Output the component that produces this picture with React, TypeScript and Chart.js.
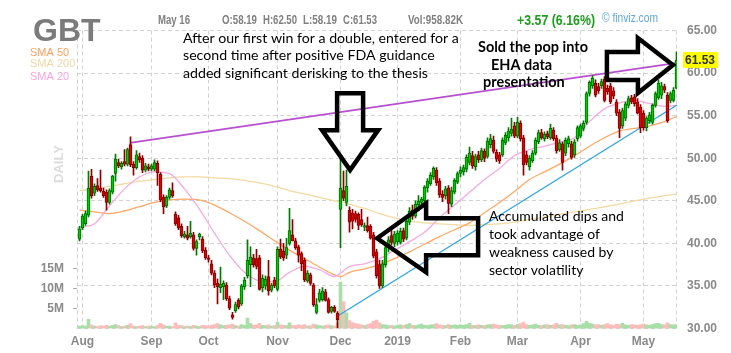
import React, { useEffect, useRef } from "react";
import { Chart, registerables } from "chart.js";
Chart.register(...registerables);

// ---------- axis labels ----------
const monthIdx = [1, 24, 43, 66, 87, 106, 127, 146, 167, 188];
const monthLabels = ["Aug", "Sep", "Oct", "Nov", "Dec", "2019", "Feb", "Mar", "Apr", "May"];
const volTicks = [5, 10, 15]; // millions

// ---------- daily candles [open, high, low, close] ----------
const jul2018 = [[40.5, 42.0, 40.3, 41.7]];
const aug2018 = [
  [41.8, 43.4, 41.6, 43.2], [42.3, 43.8, 42.1, 43.5], [43.3, 48.5, 43.1, 46.5], [47.9, 48.7, 45.3, 45.6],
  [45.9, 47.0, 45.6, 46.7], [46.8, 47.6, 46.1, 46.3], [46.5, 48.6, 46.0, 46.2], [46.1, 46.5, 45.4, 45.6],
  [46.0, 46.3, 43.9, 44.8], [44.8, 46.4, 44.6, 46.2], [46.0, 48.0, 45.8, 47.9], [48.2, 50.5, 47.3, 49.9],
  [49.5, 49.9, 48.9, 49.1], [49.0, 49.6, 48.7, 49.4], [49.6, 51.0, 49.1, 49.3], [49.3, 51.2, 49.1, 51.0],
  [51.6, 52.5, 49.0, 49.2], [49.3, 49.6, 48.0, 48.9], [48.9, 50.9, 48.7, 50.4], [50.2, 50.6, 49.5, 49.8],
  [50.0, 50.3, 48.3, 48.6], [48.6, 49.4, 48.4, 49.1], [49.0, 49.3, 48.5, 48.7],
];
const sep2018 = [
  [48.7, 49.3, 48.5, 49.1], [48.7, 49.8, 48.5, 49.5], [49.4, 49.7, 46.8, 48.3], [48.1, 48.3, 44.9, 45.1],
  [45.4, 45.7, 43.5, 44.3], [44.4, 45.6, 44.2, 45.4], [45.4, 46.5, 45.2, 46.3], [46.2, 47.1, 45.4, 45.6],
  [43.4, 43.7, 42.1, 42.3], [43.0, 43.3, 41.6, 41.8], [42.0, 42.3, 40.7, 40.9], [40.8, 41.4, 40.6, 41.1],
  [41.0, 42.0, 40.4, 40.6], [40.8, 42.6, 40.6, 41.2], [41.0, 41.3, 39.2, 39.4], [39.4, 40.4, 38.6, 40.2],
  [40.8, 41.2, 40.4, 41.1], [40.5, 40.8, 38.9, 39.1], [39.2, 39.5, 38.1, 38.3],
];
const oct2018 = [
  [38.3, 38.6, 37.8, 38.1], [37.6, 38.0, 36.3, 36.5], [36.5, 36.8, 34.8, 35.1], [35.3, 35.8, 32.9, 34.9],
  [34.8, 37.2, 34.2, 35.2], [34.9, 35.6, 33.4, 35.3], [35.1, 35.4, 33.3, 33.5], [33.5, 33.8, 32.2, 32.4],
  [31.6, 31.9, 31.1, 31.3], [32.1, 33.1, 31.9, 32.8], [33.3, 33.5, 32.3, 32.5], [32.9, 35.2, 32.7, 35.0],
  [34.9, 36.0, 34.6, 35.7], [36.2, 40.4, 35.9, 38.0], [37.5, 39.6, 34.9, 38.4], [38.3, 38.7, 37.2, 37.5],
  [38.2, 39.3, 37.0, 37.3], [38.3, 38.6, 34.5, 34.6], [34.8, 36.3, 34.3, 35.9], [35.0, 36.2, 34.6, 35.8],
  [36.1, 38.0, 33.9, 34.4], [34.5, 35.3, 34.3, 35.1], [35.7, 36.0, 34.8, 35.0],
];
const nov2018 = [
  [34.6, 39.6, 34.4, 39.3], [39.3, 40.5, 38.2, 38.4], [39.1, 40.0, 38.0, 38.3], [38.6, 40.6, 38.2, 39.5],
  [40.0, 44.1, 39.8, 41.5], [41.0, 42.8, 40.3, 40.3], [40.3, 40.6, 39.3, 39.5], [39.6, 39.8, 37.8, 38.6],
  [38.8, 39.0, 36.8, 37.6], [38.0, 38.3, 35.5, 35.7], [35.6, 36.8, 35.4, 36.5], [36.3, 36.5, 35.1, 35.3],
  [35.1, 35.3, 32.6, 32.8], [31.9, 33.5, 31.7, 32.8], [33.3, 34.6, 33.1, 34.2], [33.4, 34.8, 33.2, 34.4],
  [34.3, 34.6, 33.2, 33.3], [33.4, 33.6, 31.8, 31.9], [32.0, 32.6, 31.8, 32.5], [32.5, 32.7, 31.9, 32.0],
  [31.8, 32.0, 30.1, 31.0],
];
const dec2018 = [
  [44.0, 50.0, 39.5, 46.5], [46.2, 48.5, 45.0, 45.3], [44.8, 48.6, 44.4, 46.7], [43.9, 44.3, 41.3, 42.5],
  [43.6, 44.0, 41.7, 42.6], [43.5, 43.8, 42.5, 42.8], [43.4, 43.6, 41.6, 42.1], [42.8, 44.0, 42.0, 42.2],
  [41.9, 42.4, 41.5, 42.1], [42.1, 43.1, 41.3, 41.5], [42.0, 42.2, 40.5, 40.6], [41.0, 41.3, 38.3, 38.5],
  [39.0, 39.3, 35.9, 36.2], [37.5, 38.0, 34.7, 35.0], [35.0, 38.0, 34.8, 37.6], [37.5, 40.0, 37.2, 39.5],
  [39.5, 40.8, 39.0, 40.4], [40.9, 41.5, 39.8, 40.1], [40.0, 41.4, 39.6, 41.1],
];
const jan2019 = [
  [40.2, 41.5, 39.8, 41.2], [40.1, 41.8, 39.9, 41.4], [41.5, 41.8, 40.2, 40.5], [40.6, 42.9, 40.4, 42.6],
  [42.5, 44.2, 42.2, 43.8], [43.9, 44.5, 42.8, 43.2], [43.2, 45.0, 43.0, 44.6], [44.5, 45.6, 43.8, 45.0],
  [44.8, 45.4, 44.2, 45.2], [45.0, 46.8, 44.8, 46.6], [46.5, 47.6, 46.0, 47.3], [47.0, 48.3, 46.8, 48.0],
  [47.8, 49.0, 47.5, 48.8], [48.6, 48.9, 46.8, 47.1], [47.3, 47.6, 45.4, 45.7], [45.8, 46.2, 44.9, 45.4],
  [45.6, 46.7, 45.2, 46.4], [46.5, 46.8, 43.5, 44.7], [44.6, 46.6, 44.3, 46.2], [46.0, 47.6, 45.8, 47.4],
  [47.2, 48.4, 47.0, 48.2],
];
const feb2019 = [
  [48.2, 49.0, 47.8, 48.6], [48.4, 49.2, 48.0, 48.9], [48.7, 50.4, 48.4, 50.1], [49.5, 51.3, 49.2, 50.6],
  [50.3, 50.8, 48.8, 49.1], [49.0, 50.5, 48.6, 50.2], [50.4, 50.8, 49.5, 49.8], [49.8, 51.2, 49.6, 50.9],
  [50.8, 51.1, 49.6, 50.0], [50.2, 52.4, 50.0, 52.0], [51.6, 52.8, 51.2, 52.3], [52.1, 52.6, 50.6, 50.8],
  [50.7, 51.0, 49.6, 49.9], [50.4, 50.7, 49.4, 49.7], [50.4, 52.4, 50.2, 52.1], [51.8, 53.0, 51.6, 52.7],
  [52.4, 53.6, 52.0, 53.2], [52.9, 54.7, 52.6, 53.4], [53.8, 54.2, 52.4, 52.6],
];
const mar2019 = [
  [52.6, 54.8, 52.4, 54.2], [54.1, 54.4, 52.0, 52.3], [52.4, 52.7, 48.0, 49.2], [50.4, 50.8, 49.2, 49.5],
  [49.0, 50.3, 48.6, 50.0], [49.7, 50.9, 49.5, 50.6], [50.6, 52.4, 50.4, 52.1], [51.9, 53.3, 51.7, 53.0],
  [53.0, 53.4, 52.2, 52.4], [52.3, 53.1, 52.0, 52.8], [52.9, 53.2, 52.3, 52.5], [52.4, 54.0, 52.2, 53.5],
  [53.3, 53.6, 52.1, 52.3], [52.4, 52.7, 50.6, 50.9], [51.0, 52.2, 50.8, 51.8], [51.7, 51.9, 48.6, 49.5],
  [50.6, 52.4, 50.3, 52.1], [51.7, 52.6, 51.3, 52.3], [51.7, 52.0, 49.9, 50.1], [50.4, 52.2, 50.1, 51.9],
  [52.3, 53.8, 52.0, 53.6],
];
const apr2019 = [
  [52.6, 54.0, 52.4, 53.8], [53.5, 54.4, 53.2, 54.1], [54.2, 57.8, 54.0, 57.6], [57.6, 59.1, 57.3, 58.9],
  [58.5, 59.7, 58.2, 59.4], [58.8, 59.2, 57.2, 57.4], [58.4, 58.8, 57.6, 57.9], [58.5, 59.3, 58.2, 59.0],
  [59.3, 59.6, 56.6, 56.8], [58.2, 58.6, 57.5, 57.8], [58.5, 58.8, 56.4, 56.6], [57.9, 58.3, 57.0, 57.3],
  [56.6, 56.9, 55.0, 55.3], [55.4, 55.7, 52.4, 53.5], [53.8, 55.9, 53.5, 55.6], [54.7, 56.6, 54.4, 56.4],
  [56.2, 57.3, 55.9, 57.0], [57.1, 57.4, 56.4, 56.6], [57.2, 57.5, 56.1, 56.4], [56.6, 57.0, 55.2, 55.3],
  [56.0, 56.3, 53.0, 53.6],
];
const may2019 = [
  [55.3, 55.6, 53.3, 53.6], [53.6, 54.9, 53.2, 54.7], [54.4, 55.4, 54.1, 55.1], [54.2, 56.4, 54.0, 56.2],
  [56.2, 57.8, 56.0, 57.6], [57.1, 59.2, 56.9, 58.8], [57.4, 58.9, 57.0, 58.5], [58.4, 58.7, 57.7, 58.0],
  [57.4, 57.7, 54.2, 54.4], [56.8, 57.8, 56.5, 57.6], [56.8, 58.3, 56.6, 57.96], [58.19, 62.5, 58.19, 61.53],
];

// ---------- daily volume (millions) ----------
const volJul = [0.6];
const volAug = [0.7, 0.6, 2.3, 0.9, 0.6, 0.5, 0.7, 0.6, 0.8, 0.6, 0.7, 1.0, 0.7, 0.5, 0.6, 0.8, 1.2, 0.6, 0.5, 0.6, 0.7, 0.5, 0.6];
const volSep = [0.6, 0.5, 0.8, 1.3, 0.9, 0.6, 0.6, 0.5, 1.4, 0.8, 0.7, 0.5, 0.6, 0.5, 0.8, 0.6, 0.5, 0.8, 0.7];
const volOct = [0.6, 0.8, 1.0, 1.2, 0.9, 0.7, 0.8, 0.9, 1.1, 0.7, 0.6, 1.0, 0.8, 2.6, 1.2, 0.8, 0.9, 1.3, 0.8, 0.7, 0.9, 0.6, 0.7];
const volNov = [1.6, 0.9, 0.8, 0.7, 1.4, 0.8, 0.7, 0.9, 0.8, 1.0, 0.6, 0.7, 1.1, 0.9, 0.7, 0.6, 0.8, 0.9, 0.7, 0.6, 1.5];
const volDec = [11.6, 6.7, 3.9, 2.0, 1.5, 1.2, 1.1, 0.9, 0.7, 1.0, 1.2, 1.8, 2.1, 1.4, 1.0, 0.9, 0.7, 0.8, 0.6];
const volJan = [0.8, 0.9, 0.7, 1.0, 1.2, 0.8, 0.7, 0.9, 1.1, 0.8, 0.7, 0.9, 1.0, 1.2, 0.9, 0.8, 0.7, 1.0, 0.8, 0.9, 0.8];
const volFeb = [0.9, 0.8, 1.0, 1.3, 0.8, 0.7, 0.9, 0.8, 0.7, 0.9, 1.0, 1.1, 0.9, 0.8, 0.7, 0.8, 1.0, 0.9, 0.8];
const volMar = [1.0, 1.2, 1.6, 1.0, 0.8, 0.9, 1.1, 0.8, 0.7, 0.9, 1.0, 0.8, 0.9, 1.3, 0.9, 1.0, 0.8, 0.7, 0.9, 1.0, 0.8];
const volApr = [0.9, 1.2, 1.8, 1.3, 1.1, 0.9, 1.0, 0.8, 1.0, 1.2, 0.9, 0.8, 1.1, 1.0, 1.3, 0.9, 0.8, 1.0, 0.9, 0.8, 1.0];
const volMay = [1.1, 0.9, 0.8, 1.0, 1.2, 1.3, 1.0, 0.9, 1.4, 1.0, 0.9, 0.96];

// ---------- moving averages, read at these candle indexes ----------
const smaIdx = [0, 5, 10, 15, 20, 25, 30, 35, 40, 45, 50, 55, 60, 65, 70, 75, 80, 85, 87, 90, 95, 100, 105, 110, 115, 120, 125, 130, 135, 140, 145, 150, 155, 160, 165, 170, 175, 180, 185, 190, 195, 199];
const sma20 = [41.9, 42.3, 44.4, 46.4, 47.8, 48.4, 48.2, 46.4, 44.0, 41.2, 38.6, 36.6, 35.6, 35.5, 36.6, 37.3, 36.9, 36.1, 36.5, 37.3, 37.6, 38.2, 39.2, 40.2, 41.3, 43.0, 44.5, 46.0, 47.5, 48.8, 50.3, 51.0, 51.4, 51.9, 52.4, 54.3, 55.8, 56.5, 56.8, 56.4, 56.1, 56.2];
const sma50 = [43.9, 43.7, 43.5, 43.8, 44.3, 44.8, 45.1, 45.2, 45.1, 44.5, 43.6, 42.6, 41.5, 40.3, 39.2, 38.2, 37.2, 36.3, 36.1, 36.6, 37.0, 37.5, 38.2, 39.0, 39.9, 40.8, 41.6, 42.4, 43.6, 44.8, 46.1, 47.5, 48.4, 49.3, 50.3, 51.4, 52.4, 53.2, 53.5, 53.8, 54.3, 54.9];
const sma200 = [46.2, 46.4, 46.7, 47.0, 47.3, 47.5, 47.7, 47.8, 47.8, 47.7, 47.6, 47.4, 47.1, 46.7, 46.2, 45.8, 45.4, 45.0, 44.9, 44.6, 44.1, 43.5, 43.0, 42.6, 42.4, 42.3, 42.2, 42.1, 42.2, 42.3, 42.5, 42.8, 43.1, 43.4, 43.7, 44.0, 44.3, 44.6, 45.0, 45.3, 45.6, 45.8];

// ---------- trend lines ----------
const resistX = [16.8, 199.2];
const resistY = [51.8, 61.2];
const supportX = [86.2, 199.2];
const supportY = [31.5, 56.25];

// ---------- text ----------
const noteFda = [
  "After our first win for a double, entered for a",
  "second time after positive FDA guidance",
  "added significant derisking to the thesis",
];
const noteSold = ["Sold the pop into", "EHA data", "presentation"];
const noteDips = ["Accumulated dips and", "took advantage of", "weakness caused by", "sector volatility"];
const header = { date: "May 16", o: "O:58.19", h: "H:62.50", l: "L:58.19", c: "C:61.53", vol: "Vol:958.82K", chg: "+3.57 (6.16%)" };
const lastPrice = 61.53;

// ---------- derived tables ----------
const candles = [...jul2018, ...aug2018, ...sep2018, ...oct2018, ...nov2018, ...dec2018, ...jan2019, ...feb2019, ...mar2019, ...apr2019, ...may2019];
const volumes = [...volJul, ...volAug, ...volSep, ...volOct, ...volNov, ...volDec, ...volJan, ...volFeb, ...volMar, ...volApr, ...volMay];

const SANS = '"Liberation Sans", Arial, sans-serif';
const NOTE = 'Lato, "Open Sans", sans-serif';
const GRID = "#d2d2d2";
const AXIS_TXT = "#8a8a8a";

const arrows = [
  { idx: 90.2, price: 48.6, pts: [[-13, -77], [13, -77], [13, -40], [28, -40], [0, 0], [-28, -40], [-13, -40]] },
  { idx: 99.2, price: 40.6, pts: [[0, 0], [49, -35], [49, -20], [101, -20], [101, 17], [49, 17], [49, 34]] },
  { idx: 197.8, price: 60.95, pts: [[0, 0], [-35, -27], [-35, -13], [-66, -13], [-66, 15], [-35, 15], [-35, 28]] },
];

function fitSize(ctx: CanvasRenderingContext2D, text: string, weight: string, family: string, width: number) {
  ctx.font = `${weight} 20px ${family}`;
  return (20 * width) / ctx.measureText(text).width;
}

// draws text at a fixed font size, squeezed/stretched horizontally to the given width
function drawScaled(ctx: CanvasRenderingContext2D, s: string, x: number, y: number, font: string, width: number, color: string) {
  ctx.save();
  ctx.font = font;
  ctx.fillStyle = color;
  ctx.textAlign = "left";
  ctx.textBaseline = "alphabetic";
  const k = width / ctx.measureText(s).width;
  ctx.translate(x, y);
  ctx.scale(k, 1);
  ctx.fillText(s, 0, 0);
  ctx.restore();
}

function drawBlock(ctx: CanvasRenderingContext2D, lines: string[], xs: number[], ys: number[], weight: string, width: number) {
  const size = fitSize(ctx, lines[0], weight, NOTE, width);
  ctx.font = `${weight} ${size}px ${NOTE}`;
  ctx.fillStyle = "#000";
  ctx.textAlign = "left";
  ctx.textBaseline = "alphabetic";
  lines.forEach((l, i) => ctx.fillText(l, xs[i], ys[i]));
}

const overlay = {
  id: "overlay",
  beforeDatasetsDraw(chart: any) {
    const { ctx, chartArea: a } = chart;
    ctx.save();
    ctx.strokeStyle = GRID;
    ctx.lineWidth = 1;
    ctx.setLineDash([4, 3]);
    ctx.beginPath();
    ctx.moveTo(Math.round(a.left) + 0.5, a.top);
    ctx.lineTo(Math.round(a.left) + 0.5, a.bottom);
    ctx.moveTo(Math.round(a.right) - 0.5, a.top);
    ctx.lineTo(Math.round(a.right) - 0.5, a.bottom);
    ctx.stroke();
    ctx.restore();
  },
  afterDraw(chart: any) {
    const { ctx } = chart;
    const xs = chart.scales.x;
    const ys = chart.scales.y;
    ctx.save();

    // arrows
    ctx.strokeStyle = "#000";
    ctx.lineWidth = 4.5;
    ctx.lineJoin = "miter";
    ctx.miterLimit = 10;
    arrows.forEach((a) => {
      const tx = xs.getPixelForValue(a.idx);
      const ty = ys.getPixelForValue(a.price);
      ctx.beginPath();
      a.pts.forEach((p, i) => (i === 0 ? ctx.moveTo(tx + p[0], ty + p[1]) : ctx.lineTo(tx + p[0], ty + p[1])));
      ctx.closePath();
      ctx.stroke();
    });

    // ticker + legend
    ctx.font = `bold 32px ${SANS}`;
    ctx.fillStyle = "#7b7b7b";
    ctx.textBaseline = "alphabetic";
    ctx.fillText("GBT", 33, 41);
    ctx.font = `11px ${SANS}`;
    ctx.fillStyle = "#ffa060";
    ctx.fillText("SMA 50", 30, 56);
    ctx.fillStyle = "#f0d8a6";
    ctx.fillText("SMA 200", 30, 67);
    ctx.fillStyle = "#f5a6dc";
    ctx.fillText("SMA 20", 30, 80);

    // DAILY
    ctx.save();
    ctx.translate(63, 164);
    ctx.rotate(-Math.PI / 2);
    ctx.font = `bold 13px ${SANS}`;
    ctx.fillStyle = "#dcdcdc";
    ctx.textAlign = "center";
    ctx.textBaseline = "alphabetic";
    ctx.fillText("DAILY", 0, 0);
    ctx.restore();

    // header
    const hf = `bold 12px ${SANS}`;
    const hc = "#7f7f7f";
    drawScaled(ctx, header.date, 158, 24, hf, 32, hc);
    drawScaled(ctx, header.o, 222, 24, hf, 35, hc);
    drawScaled(ctx, header.h, 263, 24, hf, 34, hc);
    drawScaled(ctx, header.l, 303, 24, hf, 34, hc);
    drawScaled(ctx, header.c, 343, 24, hf, 34, hc);
    drawScaled(ctx, header.vol, 408, 24, hf, 55, hc);
    drawScaled(ctx, header.chg, 517, 25, `bold 15px ${SANS}`, 78, "#1e9e1e");
    drawScaled(ctx, "\u00a9 finviz.com", 602, 22, `12px ${SANS}`, 56, "#62a8dc");

    // last price tag
    const py = ys.getPixelForValue(lastPrice);
    ctx.fillStyle = "#ffff00";
    ctx.fillRect(683, Math.round(py) - 8, 35, 16);
    ctx.font = `bold 12px ${SANS}`;
    ctx.fillStyle = "#333";
    ctx.textBaseline = "middle";
    ctx.fillText(lastPrice.toFixed(2), 685, py + 0.5);

    // notes
    drawBlock(ctx, noteFda, [183, 183, 183], [43, 60, 77.5], "normal", 276);
    drawBlock(ctx, noteSold, [478, 491, 483], [52, 70, 87], "bold", 110);
    drawBlock(ctx, noteDips, [489, 489, 489, 489], [221, 239, 257, 275], "normal", 135);

    ctx.restore();
  },
};

export default function App() {
  const ref = useRef<HTMLCanvasElement>(null);
  useEffect(() => {
    const canvas = ref.current!;
    const up = candles.map((c) => c[3] >= c[0]);
    const datasets: any[] = [
      {
        type: "bar",
        label: "volume",
        yAxisID: "y2",
        data: volumes.map((v, i) => ({ x: i, y: v * 1e6 })),
        backgroundColor: up.map((u) => (u ? "#a8dea8" : "#fdbcbc")),
        barThickness: 3,
        grouped: false,
        order: 10,
      },
      {
        type: "line",
        label: "sma200",
        data: smaIdx.map((x, i) => ({ x, y: sma200[i] })),
        borderColor: "#f3d9a2",
        borderWidth: 1.3,
        pointRadius: 0,
        cubicInterpolationMode: "monotone",
        order: 9,
      },
      {
        type: "line",
        label: "sma50",
        data: smaIdx.map((x, i) => ({ x, y: sma50[i] })),
        borderColor: "#ffa866",
        borderWidth: 1.3,
        pointRadius: 0,
        cubicInterpolationMode: "monotone",
        order: 8,
      },
      {
        type: "line",
        label: "sma20",
        data: smaIdx.map((x, i) => ({ x, y: sma20[i] })),
        borderColor: "#f5aae2",
        borderWidth: 1.3,
        pointRadius: 0,
        cubicInterpolationMode: "monotone",
        order: 7,
      },
      {
        type: "line",
        label: "resistance",
        data: resistX.map((x, i) => ({ x, y: resistY[i] })),
        borderColor: "#b84fd0",
        borderWidth: 1.6,
        pointRadius: 0,
        order: 6,
      },
      {
        type: "line",
        label: "support",
        data: supportX.map((x, i) => ({ x, y: supportY[i] })),
        borderColor: "#2ea3e6",
        borderWidth: 1.3,
        pointRadius: 0,
        order: 5,
      },
      {
        type: "bar",
        label: "wicks",
        data: candles.map((c, i) => ({ x: i, y: [c[2], c[1]] })),
        backgroundColor: up.map((u) => (u ? "#007a00" : "#8c0000")),
        barThickness: 1,
        grouped: false,
        order: 2,
      },
      {
        type: "bar",
        label: "bodies",
        data: candles.map((c, i) => ({ x: i, y: [c[0], c[3]] })),
        backgroundColor: up.map((u) => (u ? "#00cc00" : "#e40000")),
        borderColor: up.map((u) => (u ? "#006a00" : "#800000")),
        borderWidth: 1,
        borderSkipped: false,
        minBarLength: 1,
        barThickness: 3,
        grouped: false,
        order: 1,
      },
    ];

    const chart = new Chart(canvas, {
      type: "bar",
      data: { datasets },
      plugins: [overlay],
      options: {
        responsive: false,
        animation: false,
        events: [],
        layout: { padding: { top: 30.5, left: 0, right: 0, bottom: 0 } },
        plugins: { legend: { display: false }, tooltip: { enabled: false }, title: { display: false } },
        scales: {
          x: {
            type: "linear",
            min: -0.8333,
            max: 199.1667,
            offset: false,
            afterBuildTicks: (s: any) => {
              s.ticks = monthIdx.map((v) => ({ value: v }));
            },
            afterFit: (s: any) => {
              s.height = 24.5;
            },
            ticks: {
              autoSkip: false,
              maxRotation: 0,
              padding: 6,
              color: AXIS_TXT,
              font: { family: SANS, size: 12, weight: "bold" },
              callback: (v: any) => {
                const k = monthIdx.indexOf(Number(v));
                return k >= 0 ? monthLabels[k] : "";
              },
            },
            grid: { color: GRID, drawTicks: false, offset: false },
            border: { display: false, dash: [4, 3] },
          },
          y: {
            type: "linear",
            position: "right",
            min: 30,
            max: 65,
            afterFit: (s: any) => {
              s.width = 54;
            },
            ticks: {
              stepSize: 5,
              padding: 10,
              color: AXIS_TXT,
              font: { family: SANS, size: 12, weight: "bold" },
              callback: (v: any) => Number(v).toFixed(2),
            },
            grid: { color: GRID, drawTicks: false },
            border: { display: false, dash: [4, 3] },
          },
          y2: {
            type: "linear",
            position: "left",
            min: 0,
            max: 74.5e6,
            afterBuildTicks: (s: any) => {
              s.ticks = volTicks.map((v) => ({ value: v * 1e6 }));
            },
            afterFit: (s: any) => {
              s.width = 77;
            },
            ticks: {
              padding: 4,
              color: AXIS_TXT,
              font: { family: SANS, size: 12, weight: "bold" },
              callback: (v: any) => `${Math.round(Number(v) / 1e6)}M`,
            },
            grid: {
              drawOnChartArea: false,
              drawTicks: true,
              tickLength: 9,
              tickColor: "#b0b0b0",
              tickBorderDash: [4, 5],
              tickBorderDashOffset: 4,
            },
            border: { display: false },
          },
        },
      } as any,
    });
    return () => chart.destroy();
  }, []);

  return (
    <div style={{ position: "fixed", left: 0, top: 0, width: 731, height: 353, background: "#fff" }}>
      <canvas ref={ref} width={731} height={353} style={{ width: 731, height: 353, display: "block" }} />
    </div>
  );
}
